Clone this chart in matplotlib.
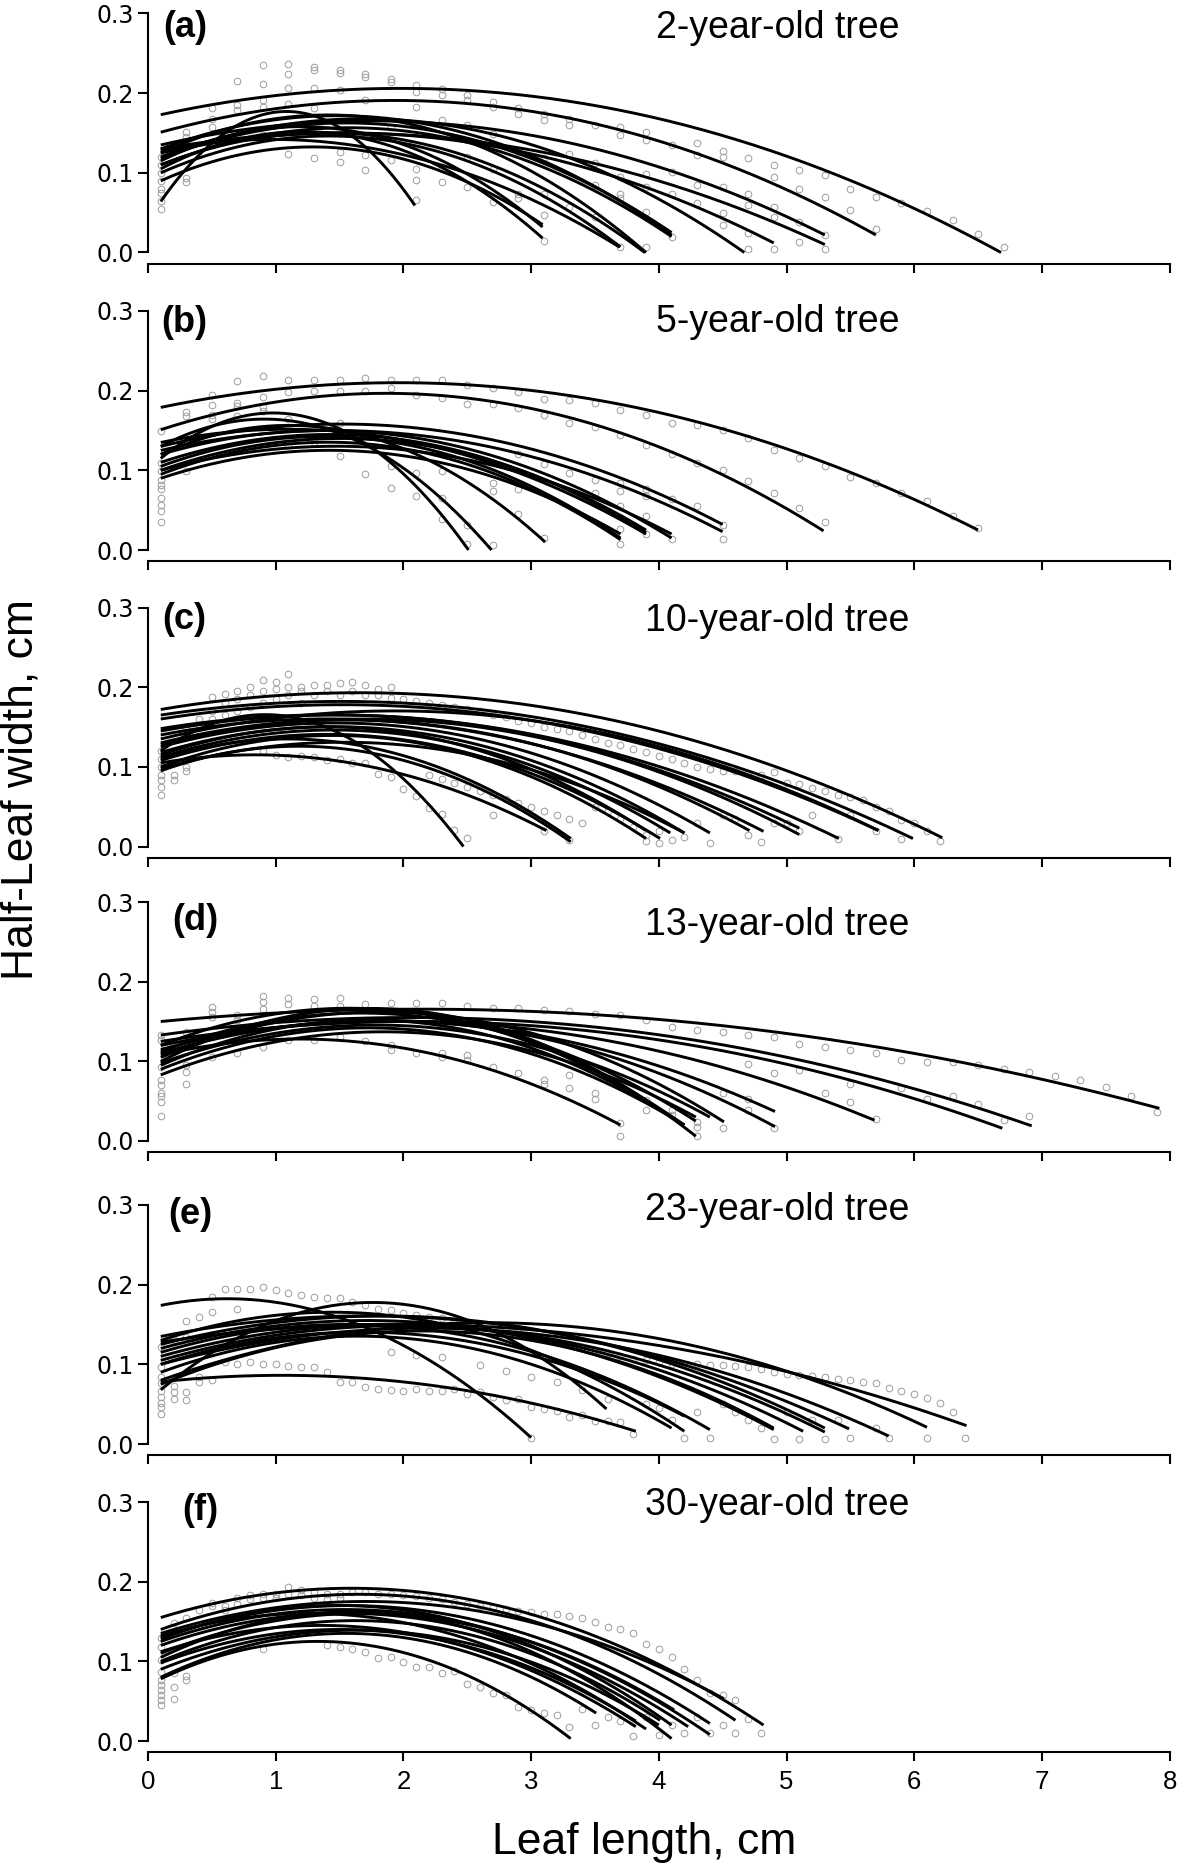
import numpy as np
import matplotlib
matplotlib.use("Agg")
import matplotlib.pyplot as plt

# ---------------- data ----------------
panel_letters = ["(a)", "(b)", "(c)", "(d)", "(e)", "(f)"]
panel_titles = ["2-year-old tree", "5-year-old tree", "10-year-old tree",
                "13-year-old tree", "23-year-old tree", "30-year-old tree"]
x_ticks = [0, 1, 2, 3, 4, 5, 6, 7, 8]
y_ticks = [0.0, 0.1, 0.2, 0.3]
y_tick_labels = ["0.0", "0.1", "0.2", "0.3"]

# fitted curves: width at base (x=0.1), a middle point, and leaf tip
a_w0 = [0.173, 0.151, 0.135, 0.130, 0.125, 0.120, 0.130, 0.118, 0.110, 0.125, 0.100, 0.115, 0.105, 0.090, 0.064, 0.110, 0.128]
a_xm = [2.0, 2.2, 1.6, 1.5, 1.5, 1.3, 1.2, 1.2, 1.3, 1.1, 1.2, 1.2, 1.0, 1.0, 1.1, 1.5, 1.3]
a_wm = [0.206, 0.190, 0.165, 0.150, 0.150, 0.165, 0.170, 0.160, 0.155, 0.170, 0.145, 0.158, 0.150, 0.130, 0.177, 0.150, 0.140]
a_len = [6.68, 5.70, 5.30, 5.30, 4.90, 4.67, 4.10, 4.10, 4.10, 3.90, 3.70, 3.09, 3.09, 3.09, 2.09, 3.89, 3.69]
a_wend = [0.0, 0.022, 0.022, 0.010, 0.012, 0.0, 0.022, 0.025, 0.020, 0.0, 0.007, 0.032, 0.018, 0.035, 0.059, 0.0, 0.007]

b_w0 = [0.179, 0.151, 0.130, 0.125, 0.120, 0.110, 0.100, 0.095, 0.090, 0.115, 0.130, 0.120, 0.135, 0.105, 0.100]
b_xm = [2.0, 2.2, 1.6, 1.5, 1.4, 1.4, 1.5, 1.3, 1.5, 1.0, 1.2, 1.3, 1.4, 1.5, 1.6]
b_wm = [0.210, 0.195, 0.158, 0.150, 0.150, 0.145, 0.140, 0.135, 0.125, 0.172, 0.160, 0.155, 0.150, 0.142, 0.130]
b_len = [6.50, 5.29, 4.50, 4.50, 4.10, 3.90, 3.90, 3.70, 3.70, 2.51, 2.69, 3.11, 3.90, 3.70, 4.10]
b_wend = [0.025, 0.024, 0.032, 0.023, 0.015, 0.022, 0.025, 0.013, 0.020, 0.0, 0.0, 0.010, 0.020, 0.015, 0.020]

c_w0 = [0.172, 0.165, 0.160, 0.148, 0.145, 0.140, 0.130, 0.125, 0.118, 0.112, 0.108, 0.100, 0.095, 0.105, 0.120, 0.115, 0.128, 0.135, 0.098, 0.110]
c_xm = [1.6, 1.4, 1.5, 1.6, 1.4, 1.5, 1.3, 1.4, 1.3, 1.2, 1.2, 1.0, 1.0, 0.9, 1.2, 1.5, 1.7, 1.8, 1.3, 1.1]
c_wm = [0.193, 0.182, 0.178, 0.165, 0.165, 0.160, 0.158, 0.155, 0.150, 0.145, 0.140, 0.135, 0.125, 0.115, 0.160, 0.150, 0.160, 0.170, 0.130, 0.135]
c_len = [6.22, 5.99, 5.72, 5.41, 5.10, 4.82, 4.71, 4.40, 4.20, 4.09, 4.01, 3.90, 3.31, 3.12, 2.47, 3.90, 5.10, 5.72, 4.20, 3.31]
c_wend = [0.011, 0.010, 0.020, 0.010, 0.023, 0.019, 0.020, 0.017, 0.017, 0.017, 0.010, 0.010, 0.006, 0.020, 0.0, 0.020, 0.015, 0.020, 0.017, 0.010]

d_w0 = [0.150, 0.133, 0.125, 0.120, 0.115, 0.110, 0.105, 0.100, 0.112, 0.095, 0.090, 0.083, 0.108, 0.098, 0.120]
d_xm = [2.5, 2.0, 2.0, 1.8, 1.6, 1.5, 1.5, 1.5, 1.5, 1.3, 1.4, 1.5, 1.2, 1.6, 1.3]
d_wm = [0.165, 0.155, 0.150, 0.150, 0.150, 0.150, 0.160, 0.165, 0.160, 0.148, 0.140, 0.135, 0.128, 0.145, 0.165]
d_len = [7.92, 6.92, 6.69, 5.69, 4.91, 4.91, 4.51, 4.29, 4.29, 4.12, 4.20, 4.29, 3.70, 4.40, 4.20]
d_wend = [0.041, 0.019, 0.016, 0.026, 0.037, 0.018, 0.024, 0.006, 0.025, 0.028, 0.020, 0.030, 0.020, 0.030, 0.020]

e_w0 = [0.174, 0.078, 0.100, 0.130, 0.068, 0.115, 0.120, 0.110, 0.105, 0.135, 0.100, 0.080, 0.128, 0.090, 0.075, 0.125]
e_xm = [1.2, 1.2, 1.5, 1.3, 1.5, 1.5, 1.7, 1.8, 1.8, 2.0, 2.0, 2.2, 2.2, 1.5, 1.8, 1.6]
e_wm = [0.172, 0.086, 0.140, 0.165, 0.175, 0.150, 0.155, 0.150, 0.148, 0.160, 0.145, 0.150, 0.150, 0.135, 0.140, 0.160]
e_len = [3.00, 3.82, 4.20, 4.20, 3.59, 4.40, 4.90, 5.13, 5.30, 5.49, 5.80, 6.10, 6.41, 4.10, 4.90, 5.30]
e_wend = [0.008, 0.016, 0.035, 0.016, 0.044, 0.018, 0.018, 0.016, 0.015, 0.019, 0.010, 0.021, 0.023, 0.020, 0.020, 0.020]

f_w0 = [0.155, 0.140, 0.135, 0.130, 0.125, 0.120, 0.110, 0.105, 0.100, 0.112, 0.098, 0.080, 0.078, 0.090, 0.132, 0.128]
f_xm = [2.0, 2.0, 1.8, 1.6, 1.5, 1.4, 1.6, 1.3, 1.4, 1.3, 1.5, 1.5, 1.3, 1.4, 1.2, 1.0]
f_wm = [0.189, 0.182, 0.175, 0.170, 0.165, 0.160, 0.160, 0.160, 0.150, 0.145, 0.140, 0.135, 0.125, 0.138, 0.160, 0.165]
f_len = [4.82, 4.60, 4.51, 4.40, 4.40, 4.23, 4.12, 4.10, 4.01, 3.82, 3.82, 3.51, 3.31, 4.00, 3.90, 4.10]
f_wend = [0.020, 0.026, 0.053, 0.022, 0.008, 0.018, 0.039, 0.003, 0.026, 0.018, 0.025, 0.035, 0.003, 0.020, 0.015, 0.020]

# measured points (grey circles): positions along leaf and widths per position
a_cx = [0.1, 0.3, 0.5, 0.7, 0.9, 1.1, 1.3, 1.5, 1.7, 1.9, 2.1, 2.3, 2.5, 2.7, 2.9, 3.1, 3.3, 3.5, 3.7, 3.9,
        4.1, 4.3, 4.5, 4.7, 4.9, 5.1, 5.3, 5.5, 5.7, 5.9, 6.1, 6.3, 6.5, 6.7]
a_cy = [[0.12, 0.11, 0.10, 0.09, 0.08, 0.075, 0.065, 0.055], [0.151, 0.145, 0.093, 0.089],
        [0.181, 0.168, 0.158], [0.215, 0.185, 0.179, 0.145], [0.235, 0.211, 0.191, 0.183, 0.147],
        [0.237, 0.224, 0.206, 0.187, 0.124], [0.233, 0.229, 0.206, 0.181, 0.118],
        [0.229, 0.225, 0.204, 0.126, 0.114], [0.224, 0.220, 0.191, 0.122, 0.104],
        [0.218, 0.214, 0.158, 0.116], [0.210, 0.202, 0.183, 0.105, 0.091, 0.066],
        [0.205, 0.198, 0.166, 0.105, 0.089], [0.198, 0.191, 0.160, 0.120, 0.082],
        [0.189, 0.183, 0.149, 0.105, 0.064], [0.181, 0.174, 0.126, 0.074, 0.068],
        [0.174, 0.166, 0.118, 0.074, 0.047, 0.015], [0.168, 0.160, 0.124, 0.057],
        [0.160, 0.112, 0.085, 0.045], [0.158, 0.147, 0.095, 0.074, 0.068, 0.007],
        [0.151, 0.141, 0.099, 0.082, 0.051, 0.007], [0.135, 0.101, 0.074, 0.020],
        [0.138, 0.122, 0.085, 0.062], [0.128, 0.120, 0.082, 0.049, 0.034],
        [0.119, 0.074, 0.059, 0.024, 0.005], [0.110, 0.095, 0.057, 0.045, 0.005],
        [0.104, 0.080, 0.038, 0.013], [0.097, 0.070, 0.022, 0.005], [0.080, 0.053],
        [0.070, 0.030], [0.062], [0.052], [0.041], [0.023], [0.007]]

b_cx = [0.1, 0.3, 0.5, 0.7, 0.9, 1.1, 1.3, 1.5, 1.7, 1.9, 2.1, 2.3, 2.5, 2.7, 2.9, 3.1, 3.3, 3.5, 3.7, 3.9,
        4.1, 4.3, 4.5, 4.7, 4.9, 5.1, 5.3, 5.5, 5.7, 5.9, 6.1, 6.3, 6.5]
b_cy = [[0.149, 0.109, 0.099, 0.088, 0.082, 0.076, 0.065, 0.057, 0.049, 0.035], [0.173, 0.168, 0.099],
        [0.195, 0.182, 0.170, 0.164], [0.212, 0.184, 0.181, 0.168], [0.219, 0.192, 0.179, 0.174],
        [0.214, 0.198, 0.164, 0.132], [0.214, 0.200, 0.135], [0.214, 0.200, 0.159, 0.118],
        [0.216, 0.200, 0.096], [0.214, 0.203, 0.106, 0.078], [0.214, 0.195, 0.097, 0.068],
        [0.214, 0.191, 0.099, 0.065, 0.039], [0.207, 0.183, 0.032, 0.007],
        [0.203, 0.183, 0.084, 0.074, 0.006], [0.198, 0.178, 0.120, 0.076, 0.045],
        [0.190, 0.170, 0.108, 0.015], [0.188, 0.159, 0.097], [0.184, 0.154, 0.088, 0.072],
        [0.176, 0.144, 0.084, 0.074, 0.055, 0.026, 0.007], [0.170, 0.132, 0.076, 0.068, 0.043, 0.020],
        [0.159, 0.120, 0.064, 0.014], [0.157, 0.109, 0.055], [0.151, 0.101, 0.032, 0.014],
        [0.141, 0.087], [0.126, 0.072], [0.115, 0.053], [0.106, 0.035], [0.092], [0.084],
        [0.072], [0.061], [0.043], [0.027]]

c_cx = [0.1, 0.2, 0.3, 0.4, 0.5, 0.6, 0.7, 0.8, 0.9, 1.0, 1.1, 1.2, 1.3, 1.4, 1.5, 1.6, 1.7, 1.8, 1.9, 2.0,
        2.1, 2.2, 2.3, 2.4, 2.5, 2.6, 2.7, 2.8, 2.9, 3.0, 3.1, 3.2, 3.3, 3.4, 3.5, 3.6, 3.7, 3.8, 3.9, 4.0,
        4.1, 4.2, 4.3, 4.4, 4.5, 4.6, 4.7, 4.8, 4.9, 5.0, 5.1, 5.2, 5.3, 5.4, 5.5, 5.6, 5.7, 5.8, 5.9, 6.0,
        6.1, 6.2]
c_cy = [[0.12, 0.11, 0.10, 0.09, 0.083, 0.075, 0.065], [0.105, 0.09, 0.083], [0.15, 0.10, 0.095],
        [0.16, 0.153], [0.188, 0.17, 0.16], [0.192, 0.18, 0.165], [0.195, 0.185, 0.17],
        [0.200, 0.19, 0.175], [0.209, 0.195, 0.18, 0.12], [0.207, 0.198, 0.185, 0.115],
        [0.217, 0.20, 0.19, 0.112], [0.20, 0.195, 0.18, 0.113], [0.203, 0.19, 0.112],
        [0.203, 0.195, 0.108], [0.205, 0.19, 0.11], [0.207, 0.195, 0.105], [0.203, 0.19, 0.105],
        [0.198, 0.19, 0.091], [0.20, 0.187, 0.087], [0.185, 0.072], [0.183, 0.064],
        [0.18, 0.09, 0.048], [0.178, 0.085, 0.041], [0.175, 0.08, 0.021], [0.172, 0.075, 0.011],
        [0.17, 0.07], [0.165, 0.065, 0.04], [0.162, 0.06], [0.158, 0.055], [0.155, 0.05],
        [0.15, 0.045, 0.02], [0.148, 0.04], [0.145, 0.035, 0.008], [0.14, 0.03], [0.135, 0.05],
        [0.13, 0.045], [0.127, 0.035], [0.122, 0.025], [0.118, 0.015, 0.007], [0.113, 0.02, 0.004],
        [0.11, 0.008], [0.105, 0.012], [0.10, 0.03], [0.097, 0.005], [0.095, 0.04], [0.095, 0.035],
        [0.092, 0.014], [0.09, 0.006], [0.093, 0.03], [0.08, 0.03], [0.078, 0.02], [0.074, 0.04],
        [0.07], [0.065, 0.01], [0.062, 0.04], [0.058], [0.05, 0.02], [0.045], [0.033, 0.01],
        [0.03], [0.02], [0.007]]

d_cx = [0.1, 0.3, 0.5, 0.7, 0.9, 1.1, 1.3, 1.5, 1.7, 1.9, 2.1, 2.3, 2.5, 2.7, 2.9, 3.1, 3.3, 3.5, 3.7, 3.9,
        4.1, 4.3, 4.5, 4.7, 4.9, 5.1, 5.3, 5.5, 5.7, 5.9, 6.1, 6.3, 6.5, 6.7, 6.9, 7.1, 7.3, 7.5, 7.7, 7.9]
d_cy = [[0.133, 0.127, 0.093, 0.076, 0.070, 0.060, 0.056, 0.049, 0.031], [0.137, 0.095, 0.087, 0.072],
        [0.168, 0.162, 0.156, 0.106], [0.158, 0.152, 0.110], [0.182, 0.175, 0.166, 0.118],
        [0.180, 0.172, 0.127], [0.178, 0.170, 0.127], [0.179, 0.170, 0.131], [0.172, 0.125],
        [0.173, 0.120, 0.114], [0.173, 0.110], [0.173, 0.110, 0.106], [0.169, 0.108, 0.102],
        [0.167, 0.093], [0.167, 0.085], [0.164, 0.076, 0.072], [0.163, 0.083, 0.066],
        [0.160, 0.060, 0.053], [0.158, 0.023, 0.006], [0.152, 0.051, 0.039], [0.143, 0.039, 0.033],
        [0.139, 0.024, 0.018, 0.006], [0.137, 0.060, 0.016], [0.133, 0.097, 0.053, 0.039],
        [0.131, 0.085, 0.016], [0.122, 0.089], [0.118, 0.060], [0.114, 0.072, 0.049],
        [0.110, 0.028], [0.102, 0.066], [0.099, 0.053], [0.099, 0.056], [0.095, 0.047],
        [0.091, 0.026], [0.087, 0.031], [0.081], [0.076], [0.068], [0.056], [0.037]]

e_cx = [0.1, 0.2, 0.3, 0.4, 0.5, 0.6, 0.7, 0.8, 0.9, 1.0, 1.1, 1.2, 1.3, 1.4, 1.5, 1.6, 1.7, 1.8, 1.9, 2.0,
        2.1, 2.2, 2.3, 2.4, 2.5, 2.6, 2.7, 2.8, 2.9, 3.0, 3.1, 3.2, 3.3, 3.4, 3.5, 3.6, 3.7, 3.8, 3.9, 4.0,
        4.1, 4.2, 4.3, 4.4, 4.5, 4.6, 4.7, 4.8, 4.9, 5.0, 5.1, 5.2, 5.3, 5.4, 5.5, 5.6, 5.7, 5.8, 5.9, 6.0,
        6.1, 6.2, 6.3, 6.4]
e_cy = [[0.122, 0.097, 0.084, 0.076, 0.067, 0.059, 0.052, 0.046, 0.038], [0.13, 0.073, 0.065, 0.057],
        [0.155, 0.134, 0.065, 0.055], [0.159, 0.084, 0.078], [0.185, 0.166, 0.08], [0.195, 0.103],
        [0.195, 0.17, 0.10], [0.195, 0.103], [0.197, 0.10], [0.193, 0.10], [0.189, 0.098],
        [0.187, 0.097], [0.185, 0.097], [0.183, 0.09], [0.183, 0.078], [0.178, 0.078],
        [0.175, 0.071], [0.17, 0.069], [0.168, 0.115, 0.068], [0.165, 0.067], [0.162, 0.112, 0.069],
        [0.16, 0.067], [0.158, 0.109, 0.067], [0.155, 0.069], [0.152, 0.063], [0.15, 0.099, 0.065],
        [0.146, 0.059], [0.143, 0.092, 0.055], [0.14, 0.057], [0.136, 0.084, 0.046, 0.008],
        [0.132, 0.044], [0.128, 0.078, 0.042], [0.125, 0.034], [0.122, 0.068, 0.036], [0.118, 0.029],
        [0.114, 0.057, 0.029], [0.11, 0.027], [0.107, 0.013], [0.105, 0.05], [0.103, 0.045],
        [0.10, 0.03], [0.10, 0.008], [0.10, 0.04], [0.099, 0.008], [0.099, 0.05], [0.098, 0.04],
        [0.097, 0.03], [0.094, 0.02], [0.09, 0.006], [0.088, 0.04], [0.086, 0.006], [0.085, 0.03],
        [0.084, 0.006], [0.082, 0.03], [0.08, 0.008], [0.078], [0.076, 0.02], [0.07, 0.008],
        [0.067], [0.063], [0.058, 0.008], [0.052], [0.04], [0.008]]

f_cx = [0.1, 0.2, 0.3, 0.4, 0.5, 0.6, 0.7, 0.8, 0.9, 1.0, 1.1, 1.2, 1.3, 1.4, 1.5, 1.6, 1.7, 1.8, 1.9, 2.0,
        2.1, 2.2, 2.3, 2.4, 2.5, 2.6, 2.7, 2.8, 2.9, 3.0, 3.1, 3.2, 3.3, 3.4, 3.5, 3.6, 3.7, 3.8, 3.9, 4.0,
        4.1, 4.2, 4.3, 4.4, 4.5, 4.6, 4.7, 4.8]
f_cy = [[0.129, 0.118, 0.102, 0.087, 0.076, 0.070, 0.064, 0.058, 0.051, 0.045], [0.148, 0.085, 0.068, 0.053],
        [0.154, 0.081, 0.076], [0.164], [0.173, 0.17], [0.17, 0.165], [0.179, 0.172], [0.183, 0.178],
        [0.185, 0.18, 0.115], [0.185, 0.18], [0.193, 0.185], [0.189, 0.183], [0.187, 0.18],
        [0.185, 0.178, 0.12], [0.185, 0.18, 0.118], [0.187, 0.116], [0.187, 0.112], [0.185, 0.104],
        [0.185, 0.105], [0.183, 0.099], [0.182, 0.093], [0.18, 0.093], [0.178, 0.085], [0.175, 0.088],
        [0.172, 0.072], [0.17, 0.068], [0.168, 0.06], [0.166, 0.058], [0.163, 0.043], [0.162, 0.039],
        [0.16, 0.035], [0.16, 0.033], [0.157, 0.018], [0.155, 0.04], [0.15, 0.02], [0.143, 0.03],
        [0.14, 0.025], [0.135, 0.006], [0.122, 0.03], [0.116, 0.008], [0.106, 0.02], [0.091, 0.01],
        [0.076, 0.03], [0.06, 0.01], [0.058, 0.02], [0.051, 0.01], [0.028], [0.01]]

# ---------------- layout ----------------
W, H = 1181, 1867
fig = plt.figure(figsize=(W / 100, H / 100), dpi=100)
FONT = "Liberation Sans"

x0_px, cm_px = 148.0, 127.7
panel_top_px = [13.5, 311, 607.5, 902, 1205, 1502]
panel_h_px = 239.0
letter_x = [0.29, 0.28, 0.28, 0.37, 0.33, 0.41]
letter_off_px = [14, 11, 12, 19, 10, 8]
title_off_px = [24, 21, 23, 33, 15, 13]

curves = [(a_w0, a_xm, a_wm, a_len, a_wend), (b_w0, b_xm, b_wm, b_len, b_wend),
          (c_w0, c_xm, c_wm, c_len, c_wend), (d_w0, d_xm, d_wm, d_len, d_wend),
          (e_w0, e_xm, e_wm, e_len, e_wend), (f_w0, f_xm, f_wm, f_len, f_wend)]
points = [(a_cx, a_cy), (b_cx, b_cy), (c_cx, c_cy), (d_cx, d_cy), (e_cx, e_cy), (f_cx, f_cy)]

px2y = 0.3 / panel_h_px
for i in range(6):
    left = x0_px / W
    width = 8 * cm_px / W
    bottom = 1 - (panel_top_px[i] + panel_h_px) / H
    ax = fig.add_axes([left, bottom, width, panel_h_px / H])
    ax.set_xlim(0, 8)
    ax.set_ylim(0, 0.3)

    # measured points
    cx, cy = points[i]
    xs = [x for x, col in zip(cx, cy) for _ in col]
    ys = [y for col in cy for y in col]
    ax.plot(xs, ys, linestyle="none", marker="o", markersize=4.8,
            markerfacecolor="none", markeredgecolor="#9c9c9c", markeredgewidth=0.7,
            zorder=2, clip_on=False)

    # fitted curves (quadratic through read points)
    w0, xm, wm, ln, we = curves[i]
    for k in range(len(w0)):
        coef = np.polyfit([0.1, xm[k], ln[k]], [w0[k], wm[k], we[k]], 2)
        xx = np.linspace(0.1, ln[k], 150)
        ax.plot(xx, np.polyval(coef, xx), color="black", lw=2.1,
                solid_capstyle="butt", zorder=3, clip_on=False)

    # axes styling
    for s in ("top", "right"):
        ax.spines[s].set_visible(False)
    ax.spines["left"].set_linewidth(1.5)
    ax.spines["bottom"].set_linewidth(1.5)
    ax.spines["bottom"].set_position(("outward", 8))
    ax.spines["left"].set_bounds(0, 0.3)
    ax.set_yticks(y_ticks)
    ax.set_yticklabels(y_tick_labels, fontsize=17, family="DejaVu Sans")
    ax.set_xticks(x_ticks)
    ax.tick_params(axis="y", direction="out", length=7, width=1.5, pad=3.5)
    ax.tick_params(axis="x", direction="out", length=6.5, width=1.5, pad=6.5)
    if i < 5:
        ax.set_xticklabels([])
    else:
        ax.set_xticklabels([str(t) for t in x_ticks], fontsize=18.5, family=FONT)

    ax.text(letter_x[i], 0.3 - letter_off_px[i] * px2y, panel_letters[i],
            ha="center", va="center", fontsize=26, fontweight="bold", family=FONT)
    ax.text(4.93, 0.3 - title_off_px[i] * px2y, panel_titles[i],
            ha="center", va="baseline", fontsize=27, family=FONT)

fig.text(21 / W, 1 - 790 / H, "Half-Leaf width, cm", rotation=90, ha="center",
         va="center", fontsize=32, family=FONT)
fig.text(644 / W, 1 - 1854 / H, "Leaf length, cm", ha="center", va="baseline",
         fontsize=32, family=FONT)

fig.savefig("out.png", dpi=100)
